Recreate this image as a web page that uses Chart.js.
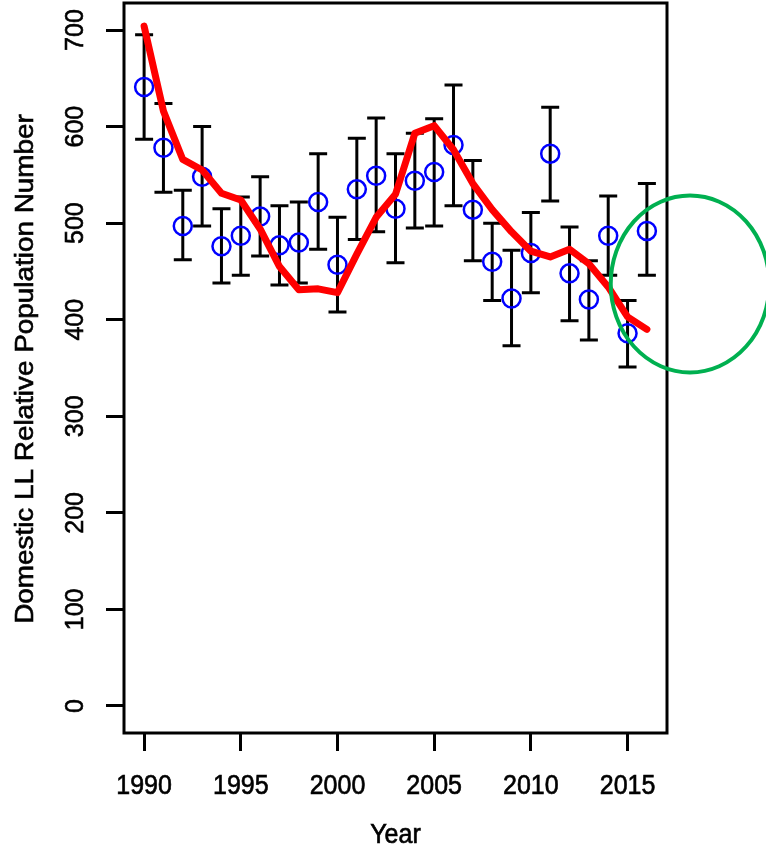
<!DOCTYPE html>
<html>
<head>
<meta charset="utf-8">
<script src="https://cdn.jsdelivr.net/npm/chart.js@4.4.1/dist/chart.umd.min.js"></script>
<style>
  html, body { margin: 0; padding: 0; background: #ffffff; }
  #wrap { width: 766px; height: 849px; }
</style>
</head>
<body>
<div id="wrap"><canvas id="popChart" width="766" height="849"></canvas></div>
<script>
// Survey years
const years = [1990, 1991, 1992, 1993, 1994, 1995, 1996, 1997, 1998, 1999,
               2000, 2001, 2002, 2003, 2004, 2005, 2006, 2007, 2008, 2009,
               2010, 2011, 2012, 2013, 2014, 2015, 2016];

// Yearly index estimate (open circles)
const indexValues = [641, 578, 497, 548, 476, 487, 507, 477, 480, 522,
                     457, 535, 549, 515, 544, 553, 581, 514, 460, 422,
                     469, 572, 448, 421, 487, 386, 492];

// Error bar limits
const upperLimit = [695, 624, 534, 600, 515, 527, 548, 518, 522, 572,
                    506, 588, 609, 572, 593, 608, 643, 565, 500, 472,
                    511, 620, 496, 461, 528, 420, 541];
const lowerLimit = [587, 532, 462, 497, 438, 446, 466, 436, 438, 473,
                    408, 483, 491, 459, 495, 497, 518, 461, 420, 373,
                    428, 523, 399, 379, 446, 351, 446];

// Smoothed trend (red line)
const trendValues = [704, 616, 566, 555, 531, 524, 494, 455, 431, 432,
                     428, 468, 506, 530, 593, 601, 576, 541, 514, 491,
                     471, 465, 473, 458, 434, 403, 390];

// Axis ticks
const xTicks = [1990, 1995, 2000, 2005, 2010, 2015];
const yTicks = [0, 100, 200, 300, 400, 500, 600, 700];

const xTitle = 'Year';
const yTitle = 'Domestic LL Relative Population Number';

// Highlight ring around the latest years (data units)
const ringCenterYear = 2018.23;
const ringCenterValue = 437;
const ringRadiusYears = 4.1;
const ringRadiusValue = 91.6;

const FONT = '25px "Liberation Sans", Arial, sans-serif';

// text drawn with a slight outline so it reads a bit heavier;
// sy stretches along the screen's vertical axis
function drawLabel(ctx, text, x, y, rotated, sy) {
    ctx.save();
    ctx.translate(x, y);
    ctx.scale(1, sy);
    if (rotated) ctx.rotate(-Math.PI / 2);
    ctx.fillText(text, 0, 0);
    ctx.strokeText(text, 0, 0);
    ctx.restore();
}

const framePlugin = {
    id: 'frame',
    beforeDatasetsDraw(chart) {
        const { ctx, scales: { x, y } } = chart;
        // error bars
        ctx.save();
        ctx.strokeStyle = '#000000';
        ctx.lineWidth = 3;
        ctx.lineCap = 'butt';
        years.forEach((yr, i) => {
            const px = x.getPixelForValue(yr);
            const top = y.getPixelForValue(upperLimit[i]);
            const bot = y.getPixelForValue(lowerLimit[i]);
            ctx.beginPath();
            ctx.moveTo(px, top); ctx.lineTo(px, bot);
            ctx.moveTo(px - 9, top); ctx.lineTo(px + 9, top);
            ctx.moveTo(px - 9, bot); ctx.lineTo(px + 9, bot);
            ctx.stroke();
        });
        ctx.restore();
    },
    afterDraw(chart) {
        const { ctx, chartArea: a, scales: { x, y } } = chart;
        ctx.save();
        ctx.strokeStyle = '#000000';
        ctx.lineWidth = 3;
        ctx.strokeRect(a.left, a.top, a.right - a.left, a.bottom - a.top);

        // tick labels and axis titles
        ctx.fillStyle = '#000000';
        ctx.lineWidth = 0.6;
        ctx.font = FONT;
        ctx.textAlign = 'center';
        ctx.textBaseline = 'alphabetic';
        xTicks.forEach(v => drawLabel(ctx, String(v), x.getPixelForValue(v), 794, false, 1.13));
        yTicks.forEach(v => drawLabel(ctx, String(v), 83, y.getPixelForValue(v), true, 1));
        drawLabel(ctx, xTitle, (a.left + a.right) / 2, 843, false, 1.12);
        drawLabel(ctx, yTitle, 33, 369, true, 1.115);

        // green ring
        const cx = x.getPixelForValue(ringCenterYear);
        const cy = y.getPixelForValue(ringCenterValue);
        const rx = Math.abs(x.getPixelForValue(ringCenterYear + ringRadiusYears) - cx);
        const ry = Math.abs(y.getPixelForValue(ringCenterValue + ringRadiusValue) - cy);
        ctx.strokeStyle = '#00b050';
        ctx.lineWidth = 4;
        ctx.beginPath();
        ctx.ellipse(cx, cy, rx, ry, 0, 0, Math.PI * 2);
        ctx.stroke();
        ctx.restore();
    }
};

const ctx = document.getElementById('popChart').getContext('2d');
new Chart(ctx, {
    type: 'scatter',
    data: {
        datasets: [
            {
                type: 'line',
                label: 'Trend',
                data: years.map((yr, i) => ({ x: yr, y: trendValues[i] })),
                borderColor: '#ff0000',
                borderWidth: 7,
                borderCapStyle: 'round',
                borderJoinStyle: 'round',
                pointRadius: 0,
                tension: 0,
                fill: false
            },
            {
                label: 'Index',
                data: years.map((yr, i) => ({ x: yr, y: indexValues[i] })),
                pointStyle: 'circle',
                pointRadius: 9,
                pointBorderWidth: 2.5,
                pointBackgroundColor: 'rgba(0,0,0,0)',
                pointBorderColor: '#0000ff'
            }
        ]
    },
    options: {
        responsive: false,
        animation: false,
        layout: { autoPadding: false, padding: { top: 3, right: 99, left: 0, bottom: 0 } },
        plugins: { legend: { display: false }, tooltip: { enabled: false } },
        scales: {
            x: {
                type: 'linear',
                min: 1988.96,
                max: 2017.04,
                afterBuildTicks: s => { s.ticks = xTicks.map(v => ({ value: v })); },
                afterFit: s => { s.height = 116; },
                border: { display: false },
                grid: { drawOnChartArea: false, tickLength: 18, tickWidth: 3, tickColor: '#000000' },
                ticks: { display: false }
            },
            y: {
                type: 'linear',
                min: -28,
                max: 728,
                afterBuildTicks: s => { s.ticks = yTicks.map(v => ({ value: v })); },
                afterFit: s => { s.width = 124; },
                border: { display: false },
                grid: { drawOnChartArea: false, tickLength: 18, tickWidth: 3, tickColor: '#000000' },
                ticks: { display: false }
            }
        }
    },
    plugins: [framePlugin]
});
</script>
</body>
</html>
